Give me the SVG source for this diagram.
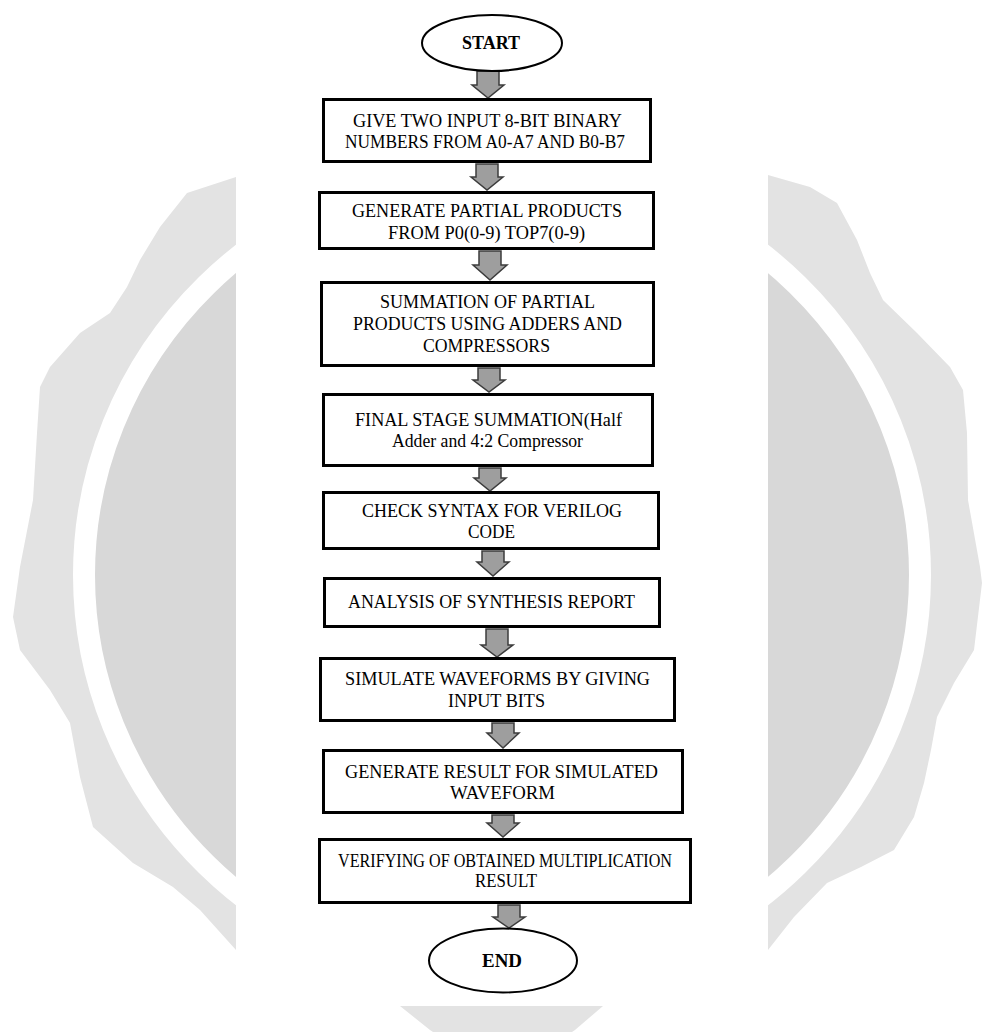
<svg xmlns="http://www.w3.org/2000/svg" width="984" height="1032" viewBox="0 0 984 1032">
<style>
.box{fill:#fff;stroke:#000;stroke-width:3}
.term{fill:#fff;stroke:#000;stroke-width:2}
.arr{fill:#9e9e9e;stroke:#3c3c3c;stroke-width:1.5;stroke-linejoin:miter}
.t{font-family:"Liberation Serif","Times New Roman",serif;font-size:18px;fill:#000;text-anchor:middle}
.tb{font-family:"Liberation Serif","Times New Roman",serif;font-size:18px;font-weight:bold;fill:#000;text-anchor:middle}
</style>
<rect width="984" height="1032" fill="#fff"/>
<g id="watermark">
<polygon fill="#e3e3e3" points="236,177 187,193 160,227 140,260 127,287 110,313 80,333 50,367 40,387 37,433 33,500 20,567 13,617 20,650 50,690 70,723 80,777 93,827 133,863 173,887 200,910 236,950 330,985 400,1006 430,1030 460,1050 545,1050 575,1030 603,1006 680,985 768,950 794,917 827,883 861,867 894,850 914,817 924,783 931,750 937,717 954,683 974,650 982,583 980,567 968,500 967,433 963,390 950,367 917,333 883,300 870,273 857,240 837,203 810,187 768,175 500,150"/>
<ellipse cx="502" cy="575" rx="418" ry="410" fill="#d8d8d8" stroke="#fff" stroke-width="22"/>
<rect x="236" y="0" width="532" height="1006" fill="#fff"/>
</g>
<g id="connectors">
<polygon class="arr" points="477,71 499,71 499,85 504,85 488,98 472,85 477,85"/>
<polygon class="arr" points="476,164 498,164 498,177 503,177 487,190 471,177 476,177"/>
<polygon class="arr" points="479,251 501,251 501,265 507,265 490,280 473,265 479,265"/>
<polygon class="arr" points="478,368 500,368 500,380 505,380 489,392 473,380 478,380"/>
<polygon class="arr" points="479,468 501,468 501,478 506,478 490,491 474,478 479,478"/>
<polygon class="arr" points="482,551 504,551 504,562 509,562 493,576 477,562 482,562"/>
<polygon class="arr" points="486,629 508,629 508,645 513,645 497,657 481,645 486,645"/>
<polygon class="arr" points="492,723 514,723 514,733 519,733 503,748 487,733 492,733"/>
<polygon class="arr" points="492,815 514,815 514,823 519,823 503,837 487,823 492,823"/>
<polygon class="arr" points="498,905 520,905 520,917 525,917 509,928 493,917 498,917"/>
</g>
<g id="start">
<ellipse class="term" cx="492" cy="43" rx="70" ry="28"/>
<text class="tb" x="491" y="49" textLength="58" lengthAdjust="spacingAndGlyphs">START</text>
</g>
<g id="n1">
<rect class="box" x="323.5" y="99.5" width="327" height="62"/>
<text class="t" x="487.5" y="127" textLength="269" lengthAdjust="spacingAndGlyphs">GIVE TWO INPUT 8-BIT BINARY</text>
<text class="t" x="485" y="148" textLength="280" lengthAdjust="spacingAndGlyphs">NUMBERS FROM A0-A7 AND B0-B7</text>
</g>
<g id="n2">
<rect class="box" x="319.5" y="192.5" width="334" height="56"/>
<text class="t" x="487" y="217" textLength="270" lengthAdjust="spacingAndGlyphs">GENERATE PARTIAL PRODUCTS</text>
<text class="t" x="486.5" y="239" textLength="197" lengthAdjust="spacingAndGlyphs">FROM P0(0-9) TOP7(0-9)</text>
</g>
<g id="n3">
<rect class="box" x="321.5" y="282.5" width="332" height="83"/>
<text class="t" x="487.5" y="308" textLength="215" lengthAdjust="spacingAndGlyphs">SUMMATION OF PARTIAL</text>
<text class="t" x="487.5" y="330" textLength="269" lengthAdjust="spacingAndGlyphs">PRODUCTS USING ADDERS AND</text>
<text class="t" x="486.5" y="352" textLength="127" lengthAdjust="spacingAndGlyphs">COMPRESSORS</text>
</g>
<g id="n4">
<rect class="box" x="323.5" y="394.5" width="329" height="71"/>
<text class="t" x="488.5" y="426" textLength="267" lengthAdjust="spacingAndGlyphs">FINAL STAGE SUMMATION(Half</text>
<text class="t" x="487.5" y="447" textLength="191" lengthAdjust="spacingAndGlyphs">Adder and 4:2 Compressor</text>
</g>
<g id="n5">
<rect class="box" x="323.5" y="492.5" width="335" height="56"/>
<text class="t" x="492" y="517" textLength="260" lengthAdjust="spacingAndGlyphs">CHECK SYNTAX FOR VERILOG</text>
<text class="t" x="491.5" y="538" textLength="47" lengthAdjust="spacingAndGlyphs">CODE</text>
</g>
<g id="n6">
<rect class="box" x="324.5" y="578.5" width="335" height="48"/>
<text class="t" x="491.5" y="608" textLength="287" lengthAdjust="spacingAndGlyphs">ANALYSIS OF SYNTHESIS REPORT</text>
</g>
<g id="n7">
<rect class="box" x="320.5" y="658.5" width="354" height="62"/>
<text class="t" x="497.5" y="685" textLength="305" lengthAdjust="spacingAndGlyphs">SIMULATE WAVEFORMS BY GIVING</text>
<text class="t" x="496.5" y="707" textLength="97" lengthAdjust="spacingAndGlyphs">INPUT BITS</text>
</g>
<g id="n8">
<rect class="box" x="323.5" y="750.5" width="359" height="62"/>
<text class="t" x="501.5" y="778" textLength="313" lengthAdjust="spacingAndGlyphs">GENERATE RESULT FOR SIMULATED</text>
<text class="t" x="502.5" y="799" textLength="105" lengthAdjust="spacingAndGlyphs">WAVEFORM</text>
</g>
<g id="n9">
<rect class="box" x="319.5" y="839.5" width="371" height="63"/>
<text class="t" x="505" y="867" textLength="334" lengthAdjust="spacingAndGlyphs">VERIFYING OF OBTAINED MULTIPLICATION</text>
<text class="t" x="506" y="887" textLength="62" lengthAdjust="spacingAndGlyphs">RESULT</text>
</g>
<g id="end">
<ellipse class="term" cx="503" cy="960.5" rx="74" ry="32"/>
<text class="tb" x="502" y="967" textLength="40" lengthAdjust="spacingAndGlyphs">END</text>
</g>
</svg>
